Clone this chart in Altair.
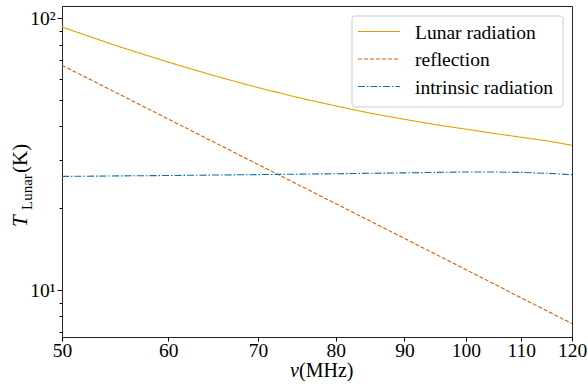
import altair as alt
import pandas as pd

# Brightness temperature of the Moon versus observing frequency
freq_lunar = [50, 55, 60, 65, 70, 75, 80, 85, 90, 95, 100, 105, 110, 115, 120]
t_lunar = [92.9, 79.0, 69.0, 61.4, 55.6, 51.1, 47.6, 44.7, 42.5, 40.6, 39.1, 37.7, 36.5, 35.4, 34.1]

freq_refl = [50, 60, 70, 80, 90, 100, 110, 120]
t_refl = [67.2, 42.6, 29.0, 20.8, 15.5, 11.9, 9.36, 7.53]

freq_intr = [50, 60, 70, 80, 90, 100, 105, 110, 115, 120]
t_intr = [26.2, 26.4, 26.6, 26.8, 27.0, 27.2, 27.2, 27.1, 26.9, 26.6]

series = ["Lunar radiation", "reflection", "intrinsic radiation"]
colors = ["#E69F00", "#D55E00", "#0072B2"]
dashes = [[1, 0], [4, 2], [7, 2, 1.5, 2]]

x_ticks = [50, 60, 70, 80, 90, 100, 110, 120]
y_ticks = [7, 8, 9, 10, 20, 30, 40, 50, 60, 70, 80, 90, 100]

FONT = "Liberation Serif"
W, H = 510, 331

rows = []
for name, fs, ts in [(series[0], freq_lunar, t_lunar),
                     (series[1], freq_refl, t_refl),
                     (series[2], freq_intr, t_intr)]:
    for f, t in zip(fs, ts):
        rows.append({"series": name, "freq": f, "temp": t})
df = pd.DataFrame(rows)

x_enc = alt.X(
    "freq:Q",
    scale=alt.Scale(type="log", domain=[50, 120], nice=False),
    axis=alt.Axis(values=x_ticks, format="d", title=None, grid=False,
                  labelFont=FONT, labelFontSize=19.5, labelColor="black",
                  tickSize=4, tickColor="black", labelPadding=0,
                  domainColor="#262626", labelFlush=False),
)
y_enc = alt.Y(
    "temp:Q",
    scale=alt.Scale(type="log", domain=[6.72, 111], nice=False),
    axis=alt.Axis(values=y_ticks, title=None, grid=False,
                  labelExpr="datum.value == 100 ? '10²' : datum.value == 10 ? '10¹' : ''",
                  tickSize={"condition": {"test": "datum.value == 10 || datum.value == 100", "value": 5}, "value": 3},
                  labelFont=FONT, labelFontSize=19.5, labelColor="black",
                  tickColor="black", labelPadding=2, domainColor="#262626"),
)

lines = alt.Chart(df).mark_line(strokeWidth=1.1, clip=True).encode(
    x=x_enc,
    y=y_enc,
    color=alt.Color("series:N", scale=alt.Scale(domain=series, range=colors), legend=None),
    strokeDash=alt.StrokeDash("series:N", scale=alt.Scale(domain=series, range=dashes), legend=None),
    order=alt.Order("freq:Q"),
)

layers = [lines]

# Legend box
one = pd.DataFrame({"k": [0]})
layers.append(
    alt.Chart(one).mark_rect(fill="white", fillOpacity=0.8, stroke="#cccccc",
                             strokeWidth=1, cornerRadius=3).encode(
        x=alt.value(290), x2=alt.value(501), y=alt.value(10), y2=alt.value(101))
)
row_y = [25.5, 53, 80.5]
for name, col, dash, yy in zip(series, colors, dashes, row_y):
    d = pd.DataFrame({"series": [name]})
    layers.append(
        alt.Chart(d).mark_rule(color=col, strokeDash=dash, strokeWidth=1.1).encode(
            x=alt.value(296), x2=alt.value(338), y=alt.value(yy))
    )
    layers.append(
        alt.Chart(d).mark_text(font=FONT, fontSize=19.5, align="left", baseline="middle",
                               color="black").encode(
            text="series:N", x=alt.value(353), y=alt.value(yy + 1))
    )

# Axis titles: nu(MHz) and T_Lunar(K)
layers.append(alt.Chart(one).mark_text(font=FONT, fontSize=20, fontStyle="italic",
                                       align="right", baseline="alphabetic", color="black").encode(
    text=alt.value("ν"), x=alt.value(237), y=alt.value(371)))
layers.append(alt.Chart(one).mark_text(font=FONT, fontSize=20, align="left",
                                       baseline="alphabetic", color="black").encode(
    text=alt.value("(MHz)"), x=alt.value(237), y=alt.value(371)))

layers.append(alt.Chart(one).mark_text(font=FONT, fontSize=21, fontStyle="italic", angle=270,
                                       align="left", baseline="alphabetic", color="black").encode(
    text=alt.value("T"), x=alt.value(-35), y=alt.value(221)))
layers.append(alt.Chart(one).mark_text(font=FONT, fontSize=15, angle=270,
                                       align="left", baseline="alphabetic", color="black").encode(
    text=alt.value("Lunar"), x=alt.value(-30), y=alt.value(204)))
layers.append(alt.Chart(one).mark_text(font=FONT, fontSize=21, angle=270,
                                       align="left", baseline="alphabetic", color="black").encode(
    text=alt.value("(K)"), x=alt.value(-35), y=alt.value(167)))

chart = alt.layer(*layers).properties(
    width=W, height=H,
    autosize=alt.AutoSizeParams(type="none"),
    padding={"left": 62, "top": 6, "right": 16, "bottom": 50},
    background="white",
).configure_view(stroke="#262626", strokeWidth=1)

chart.save("out.html", embed_options={"renderer": "svg", "actions": False})
